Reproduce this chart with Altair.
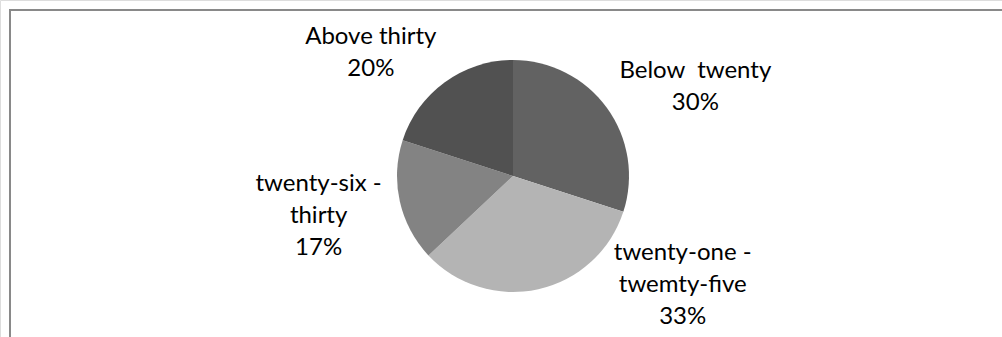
import altair as alt
import pandas as pd

categories = ["Below\u00a0 twenty", "twenty-one -\ntwemty-five", "twenty-six -\nthirty", "Above thirty"]
values = [30, 33, 17, 20]
pct_labels = ["30%", "33%", "17%", "20%"]
colors = ["#626262", "#b4b4b4", "#838383", "#515151"]

df = pd.DataFrame({
    "cat": categories,
    "value": values,
    "idx": list(range(len(categories))),
    "label": [c + "\n" + p for c, p in zip(categories, pct_labels)],
})

CX, CY, R = 513, 176, 116

base = alt.Chart(df).encode(
    theta=alt.Theta("value:Q", stack=True),
    order=alt.Order("idx:Q"),
)

pie = base.mark_arc(radius=R, stroke=None).encode(
    color=alt.Color("cat:N", scale=alt.Scale(domain=categories, range=colors), legend=None),
    x=alt.value(CX),
    y=alt.value(CY),
)

# label offsets (dx, dy) relative to the mid-angle point at radius 150
offsets = [(61, -17), (137, -69), (-48, -25), (-54, -18)]
text_layers = []
for i, (ddx, ddy) in enumerate(offsets):
    t = base.mark_text(
        radius=150, dx=ddx, dy=ddy, lineBreak="\n", lineHeight=32,
        font="Lato", fontSize=24, color="#000000", align="center", baseline="middle",
    ).encode(
        text="label:N",
        x=alt.value(CX),
        y=alt.value(CY),
        opacity=alt.condition(alt.datum.idx == i, alt.value(1), alt.value(0)),
    )
    text_layers.append(t)

border_top = alt.Chart(df).mark_rule(color="#898989", strokeWidth=2).encode(
    x=alt.value(9), x2=alt.value(1002), y=alt.value(10)
)
border_left = alt.Chart(df).mark_rule(color="#898989", strokeWidth=2).encode(
    x=alt.value(10), y=alt.value(9), y2=alt.value(337)
)

chart = alt.layer(pie, *text_layers, border_top, border_left).properties(
    width=1002, height=337, padding=0, autosize=alt.AutoSizeParams(type="none")
).configure_view(stroke=None).configure(background="white")

chart.save("out.html", embed_options={"renderer": "svg", "actions": False})
